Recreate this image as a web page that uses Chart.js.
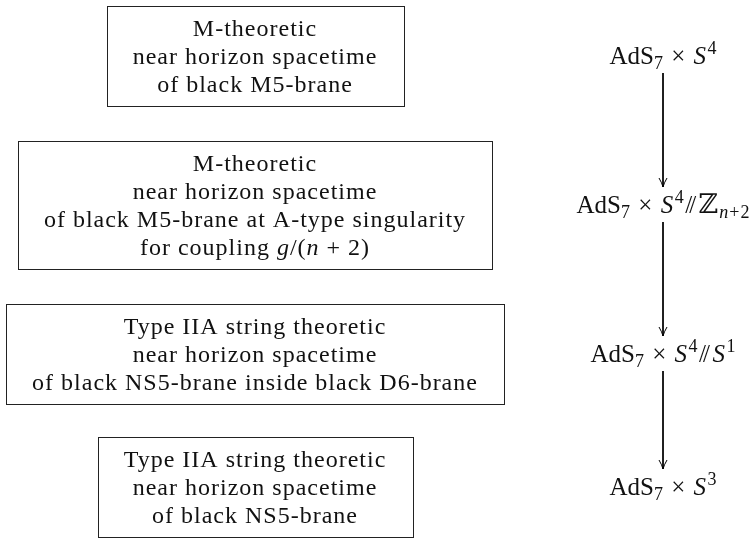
<!DOCTYPE html>
<html>
<head>
<meta charset="utf-8">
<script src="https://cdn.jsdelivr.net/npm/chart.js@4"></script>
<style>
  html, body { margin: 0; padding: 0; background: #fff; }
  #wrap { width: 751px; height: 538px; position: relative; }
</style>
</head>
<body>
<div id="wrap"><canvas id="diagram"></canvas></div>
<script>
// left column: descriptions, one box per row ($..$ = italic)
const boxLines = [
  ["M-theoretic", "near horizon spacetime", "of black M5-brane"],
  ["M-theoretic", "near horizon spacetime", "of black M5-brane at A-type singularity", "for coupling $g$/($n$ + 2)"],
  ["Type IIA string theoretic", "near horizon spacetime", "of black NS5-brane inside black D6-brane"],
  ["Type IIA string theoretic", "near horizon spacetime", "of black NS5-brane"]
];

// right column: the spacetimes, as [text, style] pieces
const spaceLabels = [
  [["AdS"], ["7", "sub"], ["\u00d7", "bin"], ["S", "it"], ["4", "sup"]],
  [["AdS"], ["7", "sub"], ["\u00d7", "bin"], ["S", "it"], ["4", "sup"], ["/", "dbl"], ["\u2124", "bb"], ["n", "itsub"], ["+", "subbin"], ["2", "sub"]],
  [["AdS"], ["7", "sub"], ["\u00d7", "bin"], ["S", "it"], ["4", "sup"], ["/", "dbl"], ["S", "it"], ["1", "sup"]],
  [["AdS"], ["7", "sub"], ["\u00d7", "bin"], ["S", "it"], ["3", "sup"]]
];

// row centres and the two columns (diagram units = px)
const rowY = [56, 205, 354, 487];
const colX = [255, 663];

// arrows between the spacetimes (row index from -> to)
const arrowFrom = [0, 1, 2];
const arrowTo = [1, 2, 3];

const FONT = "'Liberation Serif', 'DejaVu Serif', serif";
const TEXT_SIZE = 24;
const MATH_SIZE = 25;
const LINE_H = 28;
const PAD_X = 26, PAD_Y = 8;
const GAP_TOP = 17, GAP_BOT = 18;

function fontFor(style, size) {
  const small = style && (style.indexOf("sub") >= 0 || style === "sup");
  const it = style && style.indexOf("it") >= 0;
  const px = small ? Math.round(size * 0.72) : (style === "bb" ? size + 2 : size);
  return (it ? "italic " : "") + px + "px " + FONT;
}

function parseLine(str) {
  // split "$x$" pieces into italic segments
  const out = [];
  str.split("$").forEach((s, i) => { if (s) out.push([s, i % 2 ? "it" : ""]); });
  return out;
}

function segWidth(ctx, seg, size) {
  const st = seg[1] || "";
  ctx.font = fontFor(st, size);
  const w = ctx.measureText(seg[0]).width;
  if (st === "dbl") return w + 8;
  if (st === "bin") return w + size * 0.5 + 4;
  if (st === "subbin") return w + 2;
  if (st === "bb") return w + 1;
  if (st === "it" && size === MATH_SIZE) return w + 1.5;
  return w;
}

function drawRich(ctx, segs, cx, cy, size, spacing) {
  ctx.letterSpacing = spacing + "px";
  const widths = segs.map(s => segWidth(ctx, s, size));
  const total = widths.reduce((a, b) => a + b, 0);
  let x = cx - total / 2;
  const base = cy + size * 0.33;
  ctx.textAlign = "left";
  ctx.textBaseline = "alphabetic";
  segs.forEach((s, i) => {
    const st = s[1] || "";
    ctx.font = fontFor(st, size);
    let y = base;
    if (st.indexOf("sub") >= 0) y = base + size * 0.2;
    if (st === "sup") y = base - size * 0.4;
    if (st === "dbl") {
      ctx.fillText(s[0], x + 1.5, y);
      ctx.fillText(s[0], x + 5.5, y);
    } else if (st === "bin") {
      ctx.fillText(s[0], x + size * 0.25 + 2, y);
    } else if (st === "subbin") {
      ctx.fillText(s[0], x + 1, y);
    } else {
      ctx.fillText(s[0], x, y);
    }
    x += widths[i];
  });
  ctx.letterSpacing = "0px";
  return total;
}

const diagramPlugin = {
  id: "diagram",
  afterDatasetsDraw(chart) {
    const ctx = chart.ctx;
    ctx.save();
    ctx.fillStyle = "#111";

    // boxed descriptions
    chart.getDatasetMeta(0).data.forEach((pt, i) => {
      const lines = boxLines[i].map(parseLine);
      ctx.letterSpacing = "1px";
      const w = Math.max(...lines.map(l => l.reduce((a, s) => a + segWidth(ctx, s, TEXT_SIZE), 0)));
      ctx.letterSpacing = "0px";
      const h = lines.length * LINE_H + 2 * PAD_Y;
      const left = Math.round(pt.x - w / 2 - PAD_X) + 0.5;
      const top = Math.round(pt.y - h / 2) + 0.5;
      ctx.strokeStyle = "#222";
      ctx.lineWidth = 1;
      ctx.strokeRect(left, top, Math.round(w + 2 * PAD_X), Math.round(h));
      lines.forEach((l, j) => {
        const cy = pt.y - h / 2 + PAD_Y + LINE_H * (j + 0.5);
        drawRich(ctx, l, pt.x, cy, TEXT_SIZE, 1);
      });
    });

    // spacetime labels
    chart.getDatasetMeta(1).data.forEach((pt, i) => {
      drawRich(ctx, spaceLabels[i], pt.x, pt.y, MATH_SIZE, 0);
    });

    // arrow heads at the end of each arrow line
    for (let k = 2; k < chart.data.datasets.length; k++) {
      const pts = chart.getDatasetMeta(k).data;
      const tip = pts[pts.length - 1];
      ctx.strokeStyle = "#000";
      ctx.lineWidth = 1;
      ctx.beginPath();
      ctx.moveTo(tip.x - 4, tip.y - 9);
      ctx.quadraticCurveTo(tip.x - 1, tip.y - 4, tip.x, tip.y);
      ctx.quadraticCurveTo(tip.x + 1, tip.y - 4, tip.x + 4, tip.y - 9);
      ctx.stroke();
    }
    ctx.restore();
  }
};

const datasets = [
  { label: "descriptions", data: rowY.map(y => ({ x: colX[0], y })), pointRadius: 0, showLine: false },
  { label: "spacetimes", data: rowY.map(y => ({ x: colX[1], y })), pointRadius: 0, showLine: false }
];
arrowFrom.forEach((f, i) => {
  datasets.push({
    label: "arrow " + (i + 1),
    data: [
      { x: colX[1], y: rowY[f] + GAP_TOP },
      { x: colX[1], y: rowY[arrowTo[i]] - GAP_BOT }
    ],
    showLine: true,
    borderColor: "#000",
    borderWidth: 1,
    pointRadius: 0
  });
});

new Chart(document.getElementById("diagram").getContext("2d"), {
  type: "scatter",
  data: { datasets },
  options: {
    responsive: true,
    maintainAspectRatio: false,
    animation: false,
    layout: { padding: 0 },
    plugins: { legend: { display: false }, tooltip: { enabled: false } },
    scales: {
      x: { type: "linear", min: 0, max: 751, display: false },
      y: { type: "linear", min: 0, max: 538, reverse: true, display: false }
    }
  },
  plugins: [diagramPlugin]
});
</script>
</body>
</html>
